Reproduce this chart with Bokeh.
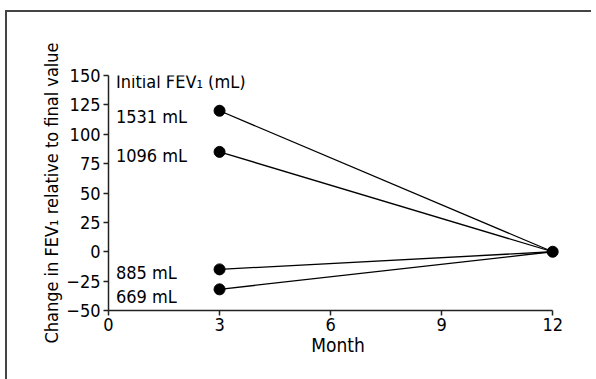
from bokeh.plotting import figure
from bokeh.models import Range1d, FixedTicker, ColumnDataSource, Label
from bokeh.embed import file_html
from bokeh.resources import INLINE

# Data
start_month = 3
end_month = 12
initial_fev = ["1531 mL", "1096 mL", "885 mL", "669 mL"]
change_at_3 = [120, 85, -15, -32]
final_change = 0
x_ticks = [0, 3, 6, 9, 12]
y_ticks = [-50, -25, 0, 25, 50, 75, 100, 125, 150]
header = "Initial FEV\u2081 (mL)"
label_y = [115, 82, -18, -38]
header_y = 145

FONT = "DejaVu Sans Condensed"
TS = "18px"

p = figure(width=584, height=367, output_backend="svg", toolbar_location=None,
           x_range=Range1d(0, 12.4), y_range=Range1d(-50, 150),
           min_border_left=101, min_border_right=24, min_border_top=63, min_border_bottom=69)
p.frame_width = 459
p.frame_height = 235
p.outline_line_color = None
p.grid.visible = False
p.background_fill_color = "white"
p.styles = {"border-top": "2px solid #444", "border-left": "2px solid #444",
            "margin-left": "5px", "margin-top": "10px"}

for v in change_at_3:
    p.line([start_month, end_month], [v, final_change], line_color="black", line_width=1.3)

src = ColumnDataSource(dict(x=[start_month] * len(change_at_3), y=change_at_3))
p.scatter("x", "y", source=src, size=11, color="black")
p.scatter([end_month], [final_change], size=11, color="black")

p.add_layout(Label(x=0.2, y=header_y, text=header, text_font=FONT, text_font_size=TS,
                   text_baseline="middle", text_color="black"))
for t, y in zip(initial_fev, label_y):
    p.add_layout(Label(x=0.2, y=y, text=t, text_font=FONT, text_font_size=TS,
                       text_baseline="middle", text_color="black"))

for ax in (p.xaxis[0], p.yaxis[0]):
    ax.axis_line_color = "#222"
    ax.axis_line_width = 1.5
    ax.major_tick_line_color = "#222"
    ax.major_tick_line_width = 1.5
    ax.major_tick_out = 5
    ax.major_tick_in = 0
    ax.minor_tick_line_color = None
    ax.major_label_text_font = FONT
    ax.major_label_text_font_size = TS
    ax.major_label_text_color = "black"
    ax.axis_label_text_font = FONT
    ax.axis_label_text_font_style = "normal"
    ax.axis_label_text_color = "black"

p.xaxis.axis_label_text_font_size = "19px"
p.yaxis.axis_label_text_font_size = "18px"
p.xaxis.ticker = FixedTicker(ticks=x_ticks)
p.yaxis.ticker = FixedTicker(ticks=y_ticks)
p.xaxis.bounds = (0, 12)
p.yaxis.bounds = (-50, 150)
p.xaxis.axis_label = "Month"
p.yaxis.axis_label = "Change in FEV\u2081 relative to final value"
p.xaxis.major_label_standoff = 2
p.xaxis.axis_label_standoff = 0
p.yaxis.major_label_standoff = 3
p.yaxis.axis_label_standoff = 1

open("out.html", "w").write(file_html(p, INLINE))
